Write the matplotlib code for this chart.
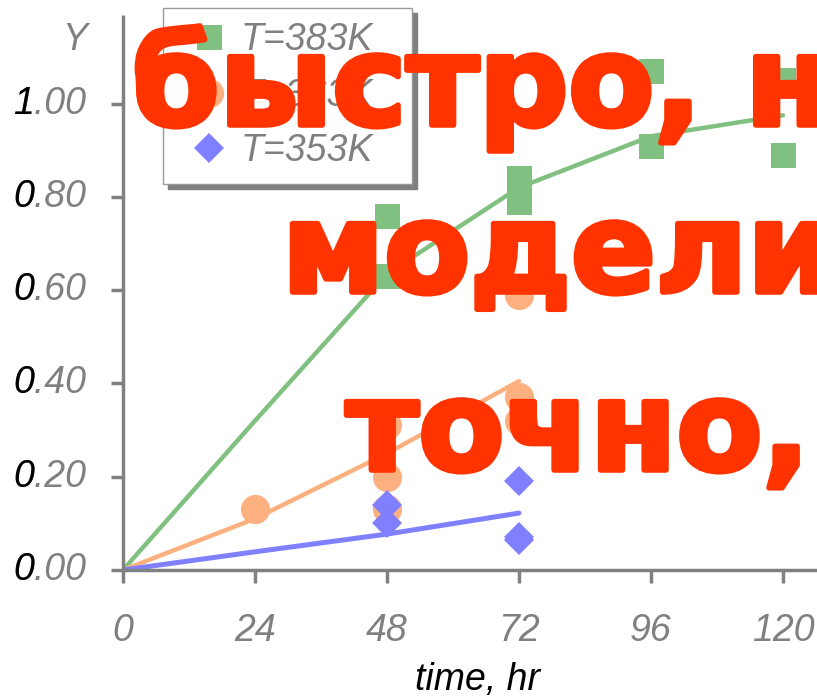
import matplotlib.pyplot as plt
import matplotlib.patheffects as pe
from matplotlib.lines import Line2D

# experimental points
t_383 = [48, 48, 72, 72, 96, 96, 120, 120]
y_383 = [0.76, 0.63, 0.84, 0.79, 1.07, 0.91, 1.05, 0.89]
t_363 = [24, 48, 48, 48, 72, 72, 72]
y_363 = [0.13, 0.31, 0.20, 0.13, 0.59, 0.37, 0.32]
t_353 = [48, 48, 72, 72, 72]
y_353 = [0.14, 0.10, 0.19, 0.07, 0.064]

# model curves
tm_383 = [0, 24, 48, 72, 96, 120]
ym_383 = [0, 0.32, 0.635, 0.82, 0.93, 0.975]
tm_363 = [0, 24, 48, 72]
ym_363 = [0, 0.11, 0.25, 0.405]
tm_353 = [0, 24, 48, 72]
ym_353 = [0, 0.039, 0.077, 0.122]

x_ticks = [0, 24, 48, 72, 96, 120]
y_ticks = [0.0, 0.2, 0.4, 0.6, 0.8, 1.0]
series_labels = ['T=383K', 'T=363K', 'T=353K']
overlay_lines = ['быстро, н', 'модели', 'точно, н']

GREEN = '#80C080'
ORANGE = '#FCB080'
BLUE = '#8080FF'
GRAY = '#808080'
W, H = 817, 699

plt.rcParams['font.family'] = ['Liberation Sans', 'DejaVu Sans']

fig = plt.figure(figsize=(W / 100, H / 100), dpi=100)
ax = fig.add_axes([123 / W, 1 - 570 / H, 1 - 123 / W, (570 - 15) / H])

ax.plot(tm_383, ym_383, color=GREEN, lw=3.2, solid_capstyle='round', zorder=2)
ax.plot(tm_363, ym_363, color=ORANGE, lw=3.2, solid_capstyle='round', zorder=2)
ax.plot(tm_353, ym_353, color=BLUE, lw=3.6, solid_capstyle='round', zorder=2)

ax.plot(t_383, y_383, 's', color=GREEN, ms=18, mew=0, zorder=3)
ax.plot(t_363, y_363, 'o', color=ORANGE, ms=21, mew=0, zorder=3)
ax.plot(t_353, y_353, 'D', color=BLUE, ms=15, mew=0, zorder=3)

ax.set_xlim(0, (W - 123) / 5.5)
ax.set_ylim(0, 1.19)
for side in ['top', 'right']:
    ax.spines[side].set_visible(False)
for side in ['left', 'bottom']:
    ax.spines[side].set_color(GRAY)
    ax.spines[side].set_linewidth(2.5)
    ax.spines[side].set_capstyle('butt')

ax.set_xticks(x_ticks)
ax.set_xticklabels([str(t) for t in x_ticks], fontsize=27, style='italic', color=GRAY)
ax.set_yticks(y_ticks)
ax.set_yticklabels([])
ax.tick_params(axis='both', direction='out', length=9, width=2.5, color=GRAY)
ax.tick_params(axis='x', pad=22)

# y tick labels: leading digit black, the rest gray
for v in y_ticks:
    s = f'{v:.2f}'
    yp = ax.transData.transform((0, v))[1]
    xf = 13 / W
    yf = yp / H
    fig.text(xf, yf, s, fontsize=27, style='italic', color=GRAY, ha='left', va='center')
    fig.text(xf, yf, s[0], fontsize=27, style='italic', color='black', ha='left', va='center')

fig.text(75 / W, 1 - 40 / H, 'Y', fontsize=27, style='italic', color=GRAY, ha='center', va='center')
fig.text(477 / W, 1 - 680 / H, 'time, hr', fontsize=27, style='italic', color='black',
         ha='center', va='center')

handles = [
    Line2D([], [], ls='none', marker='s', color=GREEN, ms=18, mew=0),
    Line2D([], [], ls='none', marker='o', color=ORANGE, ms=21, mew=0),
    Line2D([], [], ls='none', marker='D', color=BLUE, ms=15, mew=0),
]
leg = ax.legend(handles, series_labels, loc='upper left',
                bbox_to_anchor=(163 / W, 1 - 8 / H, (412 - 163) / W, 0),
                bbox_transform=fig.transFigure, mode='expand', borderaxespad=0,
                prop={'size': 27, 'style': 'italic'}, labelcolor=GRAY,
                handlelength=1.7, handletextpad=0.0, labelspacing=0.52, borderpad=0.38,
                fancybox=False, framealpha=1,
                shadow={'ox': 3.6, 'oy': -3.6, 'facecolor': GRAY, 'edgecolor': GRAY, 'alpha': 1})
leg.get_frame().set_edgecolor('#999999')
leg.get_frame().set_linewidth(1)

# red caption over the plot
red = '#FF3300'
stroke = [pe.withStroke(linewidth=4, foreground=red, capstyle='round', joinstyle='round')]
for txt, (px, py) in zip(overlay_lines, [(132, 125), (282, 292), (346, 470)]):
    fig.text(px / W, 1 - py / H, txt, fontsize=90, fontweight='bold', color=red,
             family='DejaVu Sans', ha='left', va='baseline', path_effects=stroke, zorder=10)

fig.savefig('out.png', dpi=100)
